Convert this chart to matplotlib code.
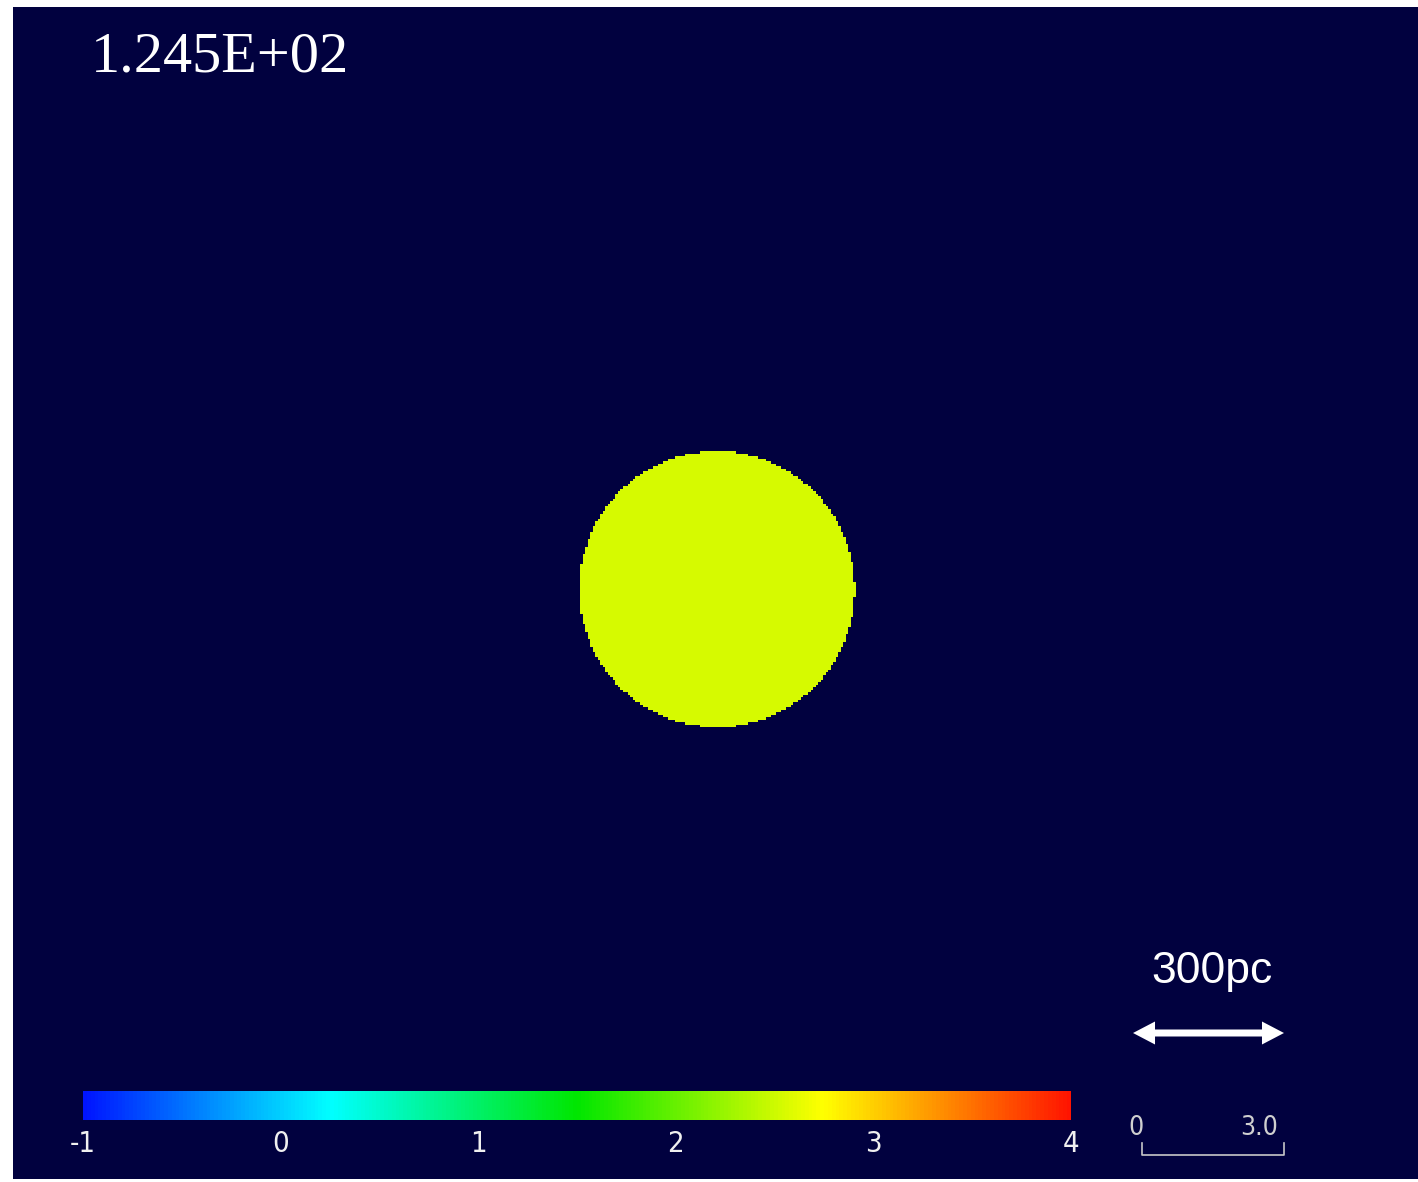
import numpy as np
import matplotlib
matplotlib.use("Agg")
import matplotlib.pyplot as plt
from matplotlib.colors import LinearSegmentedColormap, Normalize
from matplotlib.patches import Polygon
from matplotlib.lines import Line2D

# ---- data ----
time_label = "1.245E+02"
cbar_ticks = [-1, 0, 1, 2, 3, 4]
cbar_ticklabels = ["-1", "0", "1", "2", "3", "4"]
cloud_value = 2.54                 # log value inside the cloud
cloud_center_pc = [1399.0, 1172.0]  # (x, y) in pc
cloud_radius_pc = 274.0
box_size_pc = [2792.0, 2329.0]      # extent of the rendered slice
scale_bar_pc = 300.0
scale_label = "300pc"
minor_scale_labels = ["0", "3.0"]

W, H = 1418, 1182
DPI = 100
NAVY = "#01013f"

fig = plt.figure(figsize=(W / DPI, H / DPI), dpi=DPI, facecolor="white")


def fx(x):
    return x / W


def fy(y):
    return 1 - y / H


# main dark panel
left, top, right, bottom = 13, 7, 1418, 1179
ax = fig.add_axes([fx(left), fy(bottom), (right - left) / W, (bottom - top) / H])
ax.set_facecolor(NAVY)
ax.set_xlim(0, box_size_pc[0])
ax.set_ylim(0, box_size_pc[1])
ax.axis("off")

cmap = LinearSegmentedColormap.from_list(
    "rainbow5",
    [(0.0, "#0014ff"), (0.25, "#00ffff"), (0.5, "#00e600"),
     (0.75, "#ffff00"), (1.0, "#ff1400")])
cmap.set_bad(NAVY)
norm = Normalize(vmin=cbar_ticks[0], vmax=cbar_ticks[-1])

# gridded density field of the cloud
nx, ny = 560, 467
xs = (np.arange(nx) + 0.5) * box_size_pc[0] / nx
ys = (np.arange(ny) + 0.5) * box_size_pc[1] / ny
X, Y = np.meshgrid(xs, ys)
inside = (X - cloud_center_pc[0]) ** 2 + (Y - cloud_center_pc[1]) ** 2 <= cloud_radius_pc ** 2
field = np.ma.masked_where(~inside, np.full_like(X, cloud_value))
ax.imshow(field, cmap=cmap, norm=norm, origin="lower", interpolation="nearest",
          extent=[0, box_size_pc[0], 0, box_size_pc[1]], aspect="auto")

# time stamp
fig.text(fx(91), fy(71), time_label, color="white", fontsize=42,
         family=["Liberation Serif", "DejaVu Serif"], va="baseline", ha="left")

# physical scale arrow: one double-headed outline
pc_per_px = box_size_pc[0] / (right - left)
cx = (1208.5 - left) * pc_per_px
cy = (bottom - 1033) * pc_per_px
half = scale_bar_pc / 2
sw = 3.5 * pc_per_px     # half shaft width
hw = 11.5 * pc_per_px    # half head width
hl = 22 * pc_per_px      # head length
x0, x1 = cx - half, cx + half
outline = [
    (x0, cy), (x0 + hl, cy + hw), (x0 + hl, cy + sw), (x1 - hl, cy + sw),
    (x1 - hl, cy + hw), (x1, cy), (x1 - hl, cy - hw), (x1 - hl, cy - sw),
    (x0 + hl, cy - sw), (x0 + hl, cy - hw),
]
ax.add_patch(Polygon(outline, closed=True, facecolor="white", edgecolor="none"))
fig.text(fx(1212), fy(983), scale_label, color="white", fontsize=32,
         family=["Liberation Sans", "DejaVu Sans"], ha="center", va="baseline")

# small code-unit scale bracket
bx0, bx1, by0, by1 = 1142, 1284, 1143, 1155
fig.add_artist(Line2D([fx(bx0), fx(bx0), fx(bx1), fx(bx1)],
                      [fy(by0), fy(by1), fy(by1), fy(by0)],
                      transform=fig.transFigure, color="#c8c8c8", lw=1.2))
narrow = ["DejaVu Sans"]
fig.text(fx(1136), fy(1128), minor_scale_labels[0], color="#d0d0d0", fontsize=19,
         family=narrow, fontstretch="condensed", ha="center", va="center")
fig.text(fx(1259), fy(1128), minor_scale_labels[1], color="#d0d0d0", fontsize=19,
         family=narrow, fontstretch="condensed", ha="center", va="center")

# colour bar
cax = fig.add_axes([fx(83), fy(1120), (1071 - 83) / W, (1120 - 1091) / H])
sm = matplotlib.cm.ScalarMappable(norm=norm, cmap=cmap)
cb = fig.colorbar(sm, cax=cax, orientation="horizontal", ticks=cbar_ticks)
cb.outline.set_visible(False)
cb.ax.set_xticklabels(cbar_ticklabels)
cb.ax.tick_params(length=0, pad=7, colors="white", labelsize=21)
for lab in cb.ax.get_xticklabels():
    lab.set_family(narrow)
    lab.set_stretch("condensed")
    lab.set_color("#f0f0f0")

fig.savefig("out.png", dpi=DPI, facecolor="white")
